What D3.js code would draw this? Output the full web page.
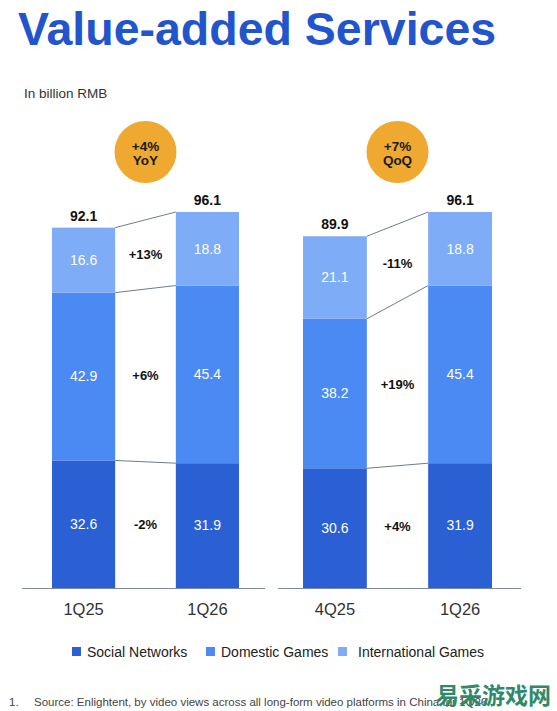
<!DOCTYPE html>
<html>
<head>
<meta charset="utf-8">
<script src="https://cdn.jsdelivr.net/npm/d3@7"></script>
<style>
  body { margin: 0; background: #fff; }
  text { font-family: "Liberation Sans", Arial, sans-serif; }
</style>
</head>
<body>
<div id="chart"></div>
<script>
// data
var seriesNames = ["Social Networks", "Domestic Games", "International Games"];
var yoyPeriods = ["1Q25", "1Q26"];
var qoqPeriods = ["4Q25", "1Q26"];
var socialNetworks = [32.6, 31.9, 30.6, 31.9];
var domesticGames = [42.9, 45.4, 38.2, 45.4];
var internationalGames = [16.6, 18.8, 21.1, 18.8];
var totals = [92.1, 96.1, 89.9, 96.1];
var yoyChanges = ["-2%", "+6%", "+13%"];
var qoqChanges = ["+4%", "+19%", "-11%"];
var yoyBadge = ["+4%", "YoY"];
var qoqBadge = ["+7%", "QoQ"];

var width = 557, height = 711;
var colors = ["#2a60d4", "#4a8af2", "#7eacf6"];
var keys = ["social", "domestic", "international"];

var svg = d3.select("#chart").append("svg")
    .attr("width", width)
    .attr("height", height);

// title + unit
svg.append("text")
    .attr("x", 18).attr("y", 45)
    .style("font-size", "46.5px").style("font-weight", "bold")
    .style("fill", "#2255cc")
    .text("Value-added Services");

svg.append("text")
    .attr("x", 24).attr("y", 98)
    .style("font-size", "13.5px").style("fill", "#333")
    .text("In billion RMB");

// shared y scale
var y = d3.scaleLinear().domain([0, 96.1]).range([588, 212]);

var color = d3.scaleOrdinal().domain(keys).range(colors);

var panels = [
  { periods: yoyPeriods, idx: [0, 1], changes: yoyChanges, badge: yoyBadge, ax0: 22, ax1: 265, bx0: 52, bx1: 239 },
  { periods: qoqPeriods, idx: [2, 3], changes: qoqChanges, badge: qoqBadge, ax0: 278, ax1: 521, bx0: 303, bx1: 492 }
];

var stack = d3.stack().keys(keys);

panels.forEach(function(p) {
  var rows = p.idx.map(function(i, j) {
    return {
      period: p.periods[j],
      social: socialNetworks[i],
      domestic: domesticGames[i],
      international: internationalGames[i],
      total: totals[i]
    };
  });

  var x = d3.scaleBand().domain(p.periods).range([p.bx0, p.bx1]).paddingInner(0.49);
  var series = stack(rows);
  var g = svg.append("g");

  // connector lines between the two bars
  series.forEach(function(s) {
    g.append("line")
      .attr("x1", x(rows[0].period) + x.bandwidth())
      .attr("y1", y(s[0][1]))
      .attr("x2", x(rows[1].period))
      .attr("y2", y(s[1][1]))
      .style("stroke", "#6f7c8f")
      .style("stroke-width", 1);
  });

  // stacked bars
  var layer = g.selectAll(".layer")
    .data(series)
    .enter().append("g")
    .attr("class", "layer")
    .style("fill", function(d) { return color(d.key); });

  layer.selectAll("rect")
    .data(function(d) { return d; })
    .enter().append("rect")
    .attr("x", function(d) { return x(d.data.period); })
    .attr("y", function(d) { return y(d[1]); })
    .attr("width", x.bandwidth())
    .attr("height", function(d) { return y(d[0]) - y(d[1]); });

  // values inside segments
  layer.selectAll("text")
    .data(function(d) { return d.map(function(v) { return { v: v, key: d.key }; }); })
    .enter().append("text")
    .attr("x", function(d) { return x(d.v.data.period) + x.bandwidth() / 2; })
    .attr("y", function(d) { return (y(d.v[0]) + y(d.v[1])) / 2; })
    .attr("dy", "0.35em")
    .attr("text-anchor", "middle")
    .style("fill", "#fff")
    .style("font-size", "14px")
    .text(function(d) { return d.v.data[d.key].toFixed(1); });

  // totals on top
  g.selectAll(".total")
    .data(rows)
    .enter().append("text")
    .attr("class", "total")
    .attr("x", function(d) { return x(d.period) + x.bandwidth() / 2; })
    .attr("y", function(d) { return y(d.total) - 7; })
    .attr("text-anchor", "middle")
    .style("font-size", "14px").style("font-weight", "bold")
    .style("fill", "#111")
    .text(function(d) { return d.total.toFixed(1); });

  // change labels in the gap
  var gapX = (x(rows[0].period) + x.bandwidth() + x(rows[1].period)) / 2;
  series.forEach(function(s, k) {
    var top = (y(s[0][1]) + y(s[1][1])) / 2;
    var bot = (y(s[0][0]) + y(s[1][0])) / 2;
    g.append("text")
      .attr("x", gapX)
      .attr("y", (top + bot) / 2)
      .attr("dy", "0.35em")
      .attr("text-anchor", "middle")
      .style("font-size", "13px").style("font-weight", "bold")
      .style("fill", "#111")
      .text(p.changes[k]);
  });

  // badge
  g.append("circle")
    .attr("cx", gapX).attr("cy", 152).attr("r", 31)
    .style("fill", "#efa930");
  g.append("text")
    .attr("x", gapX).attr("y", 150.5)
    .attr("text-anchor", "middle")
    .style("font-size", "13.5px").style("font-weight", "bold")
    .style("fill", "#1a1a1a")
    .text(p.badge[0]);
  g.append("text")
    .attr("x", gapX).attr("y", 165)
    .attr("text-anchor", "middle")
    .style("font-size", "13.5px").style("font-weight", "bold")
    .style("fill", "#1a1a1a")
    .text(p.badge[1]);

  // baseline + period labels
  g.append("line")
    .attr("x1", p.ax0).attr("x2", p.ax1)
    .attr("y1", y(0) + 0.5).attr("y2", y(0) + 0.5)
    .style("stroke", "#7d8899").style("stroke-width", 1);

  var axis = g.append("g")
    .attr("transform", "translate(0," + y(0) + ")")
    .call(d3.axisBottom(x).tickSize(0).tickPadding(15));
  axis.select(".domain").remove();
  axis.selectAll("text")
    .style("font-family", '"Liberation Sans", Arial, sans-serif')
    .style("font-size", "16.5px")
    .style("fill", "#333");
});

// legend
var legendX = [72, 206, 338];
var legend = svg.selectAll(".legend")
  .data(seriesNames)
  .enter().append("g")
  .attr("class", "legend")
  .attr("transform", function(d, i) { return "translate(" + legendX[i] + ",647)"; });

legend.append("rect")
  .attr("width", 9).attr("height", 9)
  .style("fill", function(d, i) { return colors[i]; });

legend.append("text")
  .attr("x", function(d, i) { return i == 2 ? 20 : 15; })
  .attr("y", 10)
  .style("font-size", "14px").style("fill", "#222")
  .text(function(d) { return d; });

// footnote
svg.append("text")
  .attr("x", 9).attr("y", 706)
  .style("font-size", "11.5px").style("fill", "#444")
  .text("1.");
svg.append("text")
  .attr("x", 34).attr("y", 706)
  .style("font-size", "11.5px").style("fill", "#444")
  .text("Source: Enlightent, by video views across all long-form video platforms in China for 1Q26");

// site watermark laid over the footnote end
svg.append("text")
  .attr("x", 551).attr("y", 704)
  .attr("text-anchor", "end")
  .style("font-family", '"Noto Sans CJK SC", sans-serif')
  .style("font-size", "23px").style("font-weight", "bold")
  .style("fill", "#2f8a6a")
  .text("易采游戏网");
</script>
</body>
</html>
